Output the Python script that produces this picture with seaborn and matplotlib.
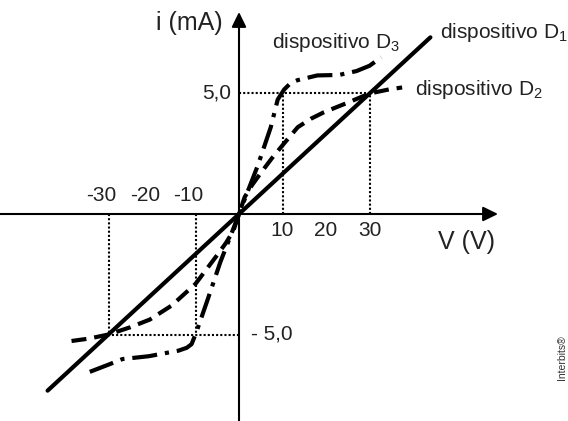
import matplotlib
matplotlib.use('Agg')
import matplotlib.pyplot as plt
import seaborn as sns

# curve readings, V in volts, i in mA
d1_v = [-44.0, 44.0]
d1_i = [-7.33, 7.33]

d2_v = [-38.5, -34.5, -30.0, -25.0, -20.5, -15.5, -10.0, -7.5, -5.0, -3.0, -1.3, 0.0,
        1.3, 3.0, 5.0, 7.5, 10.0, 13.5, 16.5, 19.5, 25.0, 30.0, 34.5, 37.5]
d2_i = [-5.27, -5.17, -5.0, -4.7, -4.38, -3.8, -2.9, -2.3, -1.7, -1.2, -0.7, 0.0,
        0.7, 1.2, 1.7, 2.3, 2.85, 3.6, 3.95, 4.22, 4.62, 5.0, 5.17, 5.25]

d3_v = [-34.3, -30.0, -26.8, -20.7, -13.9, -12.0, -10.9, -9.8, -7.3, -4.3, -1.6, 0.0,
        1.6, 4.3, 7.3, 8.9, 10.4, 11.8, 13.4, 18.0, 23.0, 27.0, 30.0, 32.7]
d3_i = [-6.55, -6.25, -6.02, -5.9, -5.67, -5.55, -5.4, -4.9, -3.6, -2.0, -0.75, 0.0,
        0.75, 2.0, 3.6, 4.75, 5.17, 5.42, 5.55, 5.75, 5.77, 5.93, 6.15, 6.5]

x_ticks_pos = [10, 20, 30]
x_ticks_neg = [-30, -20, -10]
i_mark = 5.0
v_marks = [10, 30]

sns.set_style('white')
plt.rcParams['font.family'] = ['Liberation Sans', 'DejaVu Sans']
plt.rcParams['mathtext.fontset'] = 'custom'
plt.rcParams['mathtext.rm'] = 'Liberation Sans'
plt.rcParams['mathtext.it'] = 'Liberation Sans'

fig = plt.figure(figsize=(5.68, 4.21), dpi=100)
ax = fig.add_axes([0, 0, 1, 1])
x0, sx, y0, sy = 239, 4.35, 214, 24.1
ax.set_xlim(-x0 / sx, (568 - x0) / sx)
ax.set_ylim(-(421 - y0) / sy, y0 / sy)
ax.set_axis_off()

# axes with arrows
arrow = dict(arrowstyle='-|>,head_length=0.45,head_width=0.22', mutation_scale=20,
             lw=1.5, color='black', shrinkA=0, shrinkB=0)
ax.annotate('', xy=((498 - x0) / sx, 0), xytext=(-x0 / sx, 0), arrowprops=arrow)
ax.annotate('', xy=(0, (y0 - 12) / sy), xytext=(0, -(421 - y0) / sy), arrowprops=arrow)

# dotted guides
dot = dict(color='black', lw=1.5, linestyle=(0, (1, 1)))
for s in (1, -1):
    ax.plot([0, s * max(v_marks)], [s * i_mark, s * i_mark], **dot)
    for v in v_marks:
        ax.plot([s * v, s * v], [0, s * i_mark], **dot)

sns.lineplot(x=d1_v, y=d1_i, ax=ax, color='black', lw=3, sort=False, estimator=None)
sns.lineplot(x=d2_v, y=d2_i, ax=ax, color='black', lw=3, sort=False, estimator=None,
             linestyle=(0, (3.6, 1.9)))
sns.lineplot(x=d3_v, y=d3_i, ax=ax, color='black', lw=3, sort=False, estimator=None,
             linestyle=(0, (6, 1.9, 1, 1.9)))

fs = 15
for v in x_ticks_pos:
    ax.text(v, -0.68, str(v), ha='center', va='center', fontsize=fs, color='#222222')
for v in x_ticks_neg:
    ax.annotate(str(v), (v, 0.75), xytext=(-5, 0), textcoords='offset points',
                ha='center', va='center', fontsize=fs, color='#222222')
ax.text(-1.7, i_mark, '5,0', ha='right', va='center', fontsize=fs, color='#222222')
ax.text(2.7, -i_mark, '- 5,0', ha='left', va='center', fontsize=fs, color='#222222')

ax.text(-3.7, 7.93, 'i (mA)', ha='right', va='center', fontsize=18, color='#222222')
ax.text(52.4, -1.16, 'V (V)', ha='center', va='center', fontsize=18, color='#222222')

ax.text(46.2, 7.3, 'dispositivo D$_1$', ha='left', va='baseline', fontsize=fs, color='#222222')
ax.text(40.5, 4.94, 'dispositivo D$_2$', ha='left', va='baseline', fontsize=fs, color='#222222')
ax.text(7.5, 6.89, 'dispositivo D$_3$', ha='left', va='baseline', fontsize=fs, color='#222222')

fig.text(562 / 568, 1 - 358 / 421, 'Interbits®', rotation=90, ha='center', va='center',
         fontsize=7.5, color='#333333')

fig.savefig('out.png', dpi=100)
